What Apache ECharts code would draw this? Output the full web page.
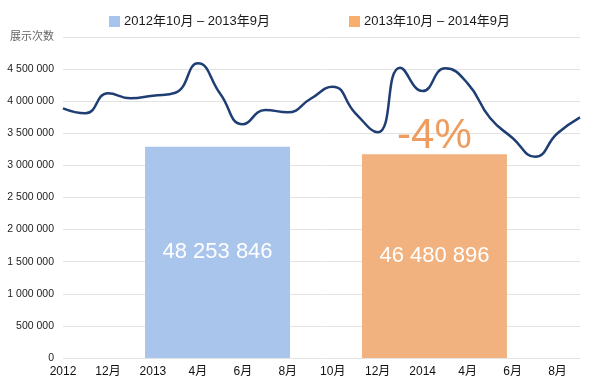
<!DOCTYPE html>
<html>
<head>
<meta charset="utf-8">
<script src="https://cdn.jsdelivr.net/npm/echarts@6/dist/echarts.min.js"></script>
<style>html,body{margin:0;padding:0;background:#fff}#c{width:590px;height:388px}</style>
</head>
<body>
<div id="c"></div>
<script>
// Monthly impressions, Oct 2012 .. Sep 2014
const impressions = [3889000, 3811000, 4123000, 4045000, 4086000, 4132000, 4590000, 4112000,
  3640000, 3863000, 3827000, 4034000, 4226000, 3816000, 3516000, 4522000, 4159000, 4512000,
  4279000, 3738000, 3427000, 3135000, 3500000, 3749000];
const tickLabels = ['2012', '12月', '2013', '4月', '6月', '8月', '10月', '12月', '2014', '4月', '6月', '8月'];
const yAxisTitle = '展示次数';
// Period bars
const periodNames = ['2012年10月 – 2013年9月', '2013年10月 – 2014年9月'];
const periodTotals = [48253846, 46480896];
const periodHeights = [3291000, 3173000];
const periodStart = [3.65, 13.3];
const periodEnd = [10.1, 19.75];
const periodColors = ['#A9C5EB', '#F1B27F'];
const legendColors = ['#A6C4EE', '#F8AE6D'];

const FONT = '"Liberation Sans", Arial, "Noto Sans CJK SC", sans-serif';
const fmt = v => String(v).replace(/\B(?=(\d{3})+(?!\d))/g, ' ');
const change = Math.round((periodTotals[1] / periodTotals[0] - 1) * 100) + '%';
const changeLabels = ['', change];

const chart = echarts.init(document.getElementById('c'), null, {renderer: 'canvas'});

const barSeries = periodNames.map((name, i) => ({
  name: name,
  type: 'custom',
  itemStyle: {color: legendColors[i]},
  encode: {x: [0, 1], y: 2},
  data: [[periodStart[i], periodEnd[i], periodHeights[i]]],
  z: 1,
  renderItem: function (params, api) {
    const p0 = api.coord([api.value(0), api.value(2)]);
    const p1 = api.coord([api.value(1), 0]);
    const children = [
      {type: 'rect', shape: {x: p0[0], y: p0[1], width: p1[0] - p0[0], height: p1[1] - p0[1]},
        style: {fill: periodColors[i]}},
      {type: 'text', style: {text: fmt(periodTotals[i]), x: (p0[0] + p1[0]) / 2, y: (p0[1] + p1[1]) / 2,
        align: 'center', verticalAlign: 'middle', fill: '#ffffff', fontSize: 22, fontFamily: FONT}}
    ];
    if (changeLabels[i]) {
      children.push({type: 'text', style: {text: changeLabels[i], x: (p0[0] + p1[0]) / 2, y: p0[1] - 18,
        align: 'center', verticalAlign: 'middle', fill: '#EE9D5E', fontSize: 42, fontFamily: FONT}});
    }
    return {type: 'group', children: children};
  }
}));

chart.setOption({
  animation: false,
  backgroundColor: '#fff',
  textStyle: {fontFamily: FONT},
  legend: {
    data: periodNames,
    left: 104, top: 10,
    itemWidth: 11, itemHeight: 11, itemGap: 79,
    icon: 'rect',
    textStyle: {fontSize: 13, color: '#1a1a1a', fontFamily: FONT, padding: [0, 0, 0, -1]}
  },
  grid: {left: 63, right: 10, top: 37, bottom: 30, containLabel: false},
  xAxis: {
    type: 'value', min: 0, max: impressions.length - 1, interval: 2,
    axisLine: {show: false}, axisTick: {show: false}, splitLine: {show: false},
    axisLabel: {
      showMaxLabel: false, margin: 8, fontSize: 12, color: '#111', fontFamily: FONT,
      formatter: v => (v % 2 === 0 && tickLabels[v / 2] !== undefined) ? tickLabels[v / 2] : ''
    }
  },
  yAxis: {
    type: 'value', min: 0, max: 5000000, interval: 500000,
    axisLine: {show: false}, axisTick: {show: false},
    splitLine: {lineStyle: {color: '#e3e3e3', width: 1}},
    axisLabel: {
      margin: 9, fontSize: 10.5, color: '#222', fontFamily: FONT,
      formatter: v => v === 5000000 ? '{t|' + yAxisTitle + '}' : fmt(v),
      rich: {t: {fontSize: 11, color: '#666', fontFamily: FONT}}
    }
  },
  series: barSeries.concat([{
    name: 'impressions',
    type: 'line',
    data: impressions.map((v, i) => [i, v]),
    smooth: true,
    symbol: 'none',
    lineStyle: {color: '#1F3E74', width: 2.5},
    z: 3
  }])
});
</script>
</body>
</html>
